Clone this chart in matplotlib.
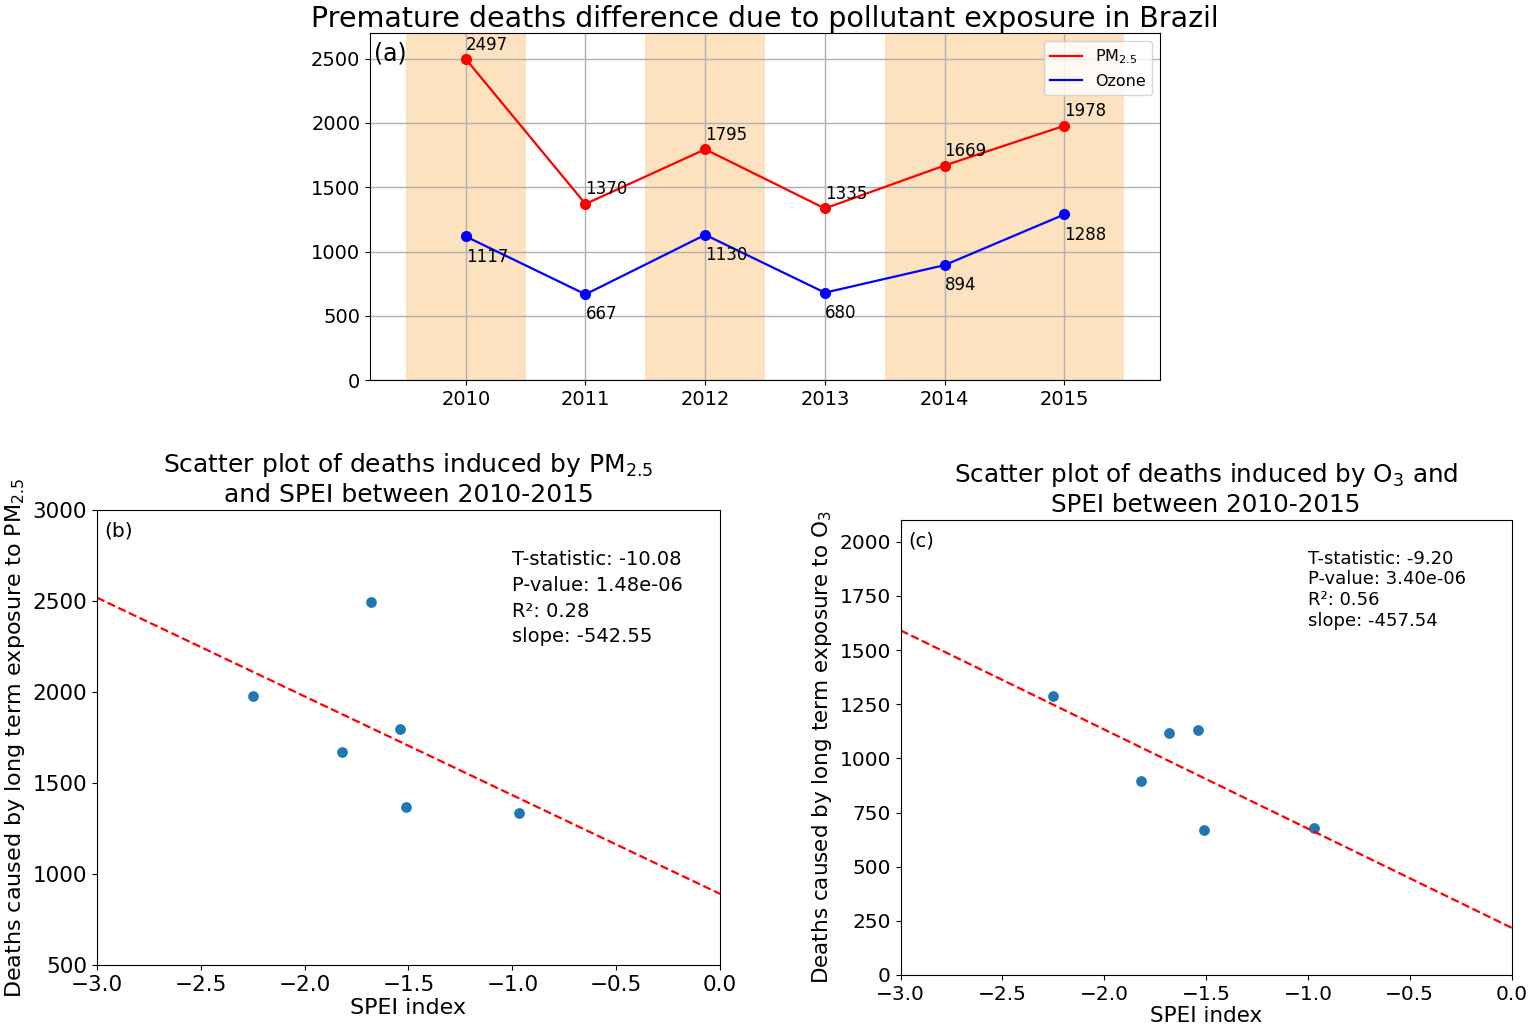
import matplotlib
matplotlib.use('Agg')
import numpy as np
import matplotlib.pyplot as plt

years = [2010, 2011, 2012, 2013, 2014, 2015]
pm25_deaths = [2497, 1370, 1795, 1335, 1669, 1978]
ozone_deaths = [1117, 667, 1130, 680, 894, 1288]
spei = [-1.68, -1.51, -1.54, -0.97, -1.82, -2.25]
shaded_years = [(2009.5, 2010.5), (2011.5, 2012.5), (2013.5, 2015.5)]

# regression results (as printed on the figure)
pm_slope, pm_intercept = -542.55, 891
o3_slope, o3_intercept = -457.54, 218
pm_stats = 'T-statistic: -10.08\nP-value: 1.48e-06\nR\u00b2: 0.28\nslope: -542.55'
o3_stats = 'T-statistic: -9.20\nP-value: 3.40e-06\nR\u00b2: 0.56\nslope: -457.54'

fig = plt.figure(figsize=(15.29, 10.30), dpi=100)

# (a) time series
ax = fig.add_axes([0.242, 0.631, 0.5167, 0.337])
for x0, x1 in shaded_years:
    ax.axvspan(x0, x1, color='#fde2bf', zorder=0, lw=0)
ax.plot(years, pm25_deaths, color='red', lw=1.6, label='PM$_{2.5}$')
ax.plot(years, ozone_deaths, color='blue', lw=1.6, label='Ozone')
ax.plot(years, pm25_deaths, 'o', color='red', markersize=7)
ax.plot(years, ozone_deaths, 'o', color='blue', markersize=7)
for x, y in zip(years, pm25_deaths):
    ax.annotate(str(y), (x, y), xytext=(0, 4), textcoords='offset points', ha='left', va='bottom', fontsize=12)
for x, y in zip(years, ozone_deaths):
    ax.annotate(str(y), (x, y), xytext=(0, -8), textcoords='offset points', ha='left', va='top', fontsize=12)
ax.set_xlim(2009.2, 2015.8)
ax.set_ylim(0, 2700)
ax.set_xticks(years)
ax.set_yticks([0, 500, 1000, 1500, 2000, 2500])
ax.tick_params(labelsize=14)
ax.grid(True, color='#b0b0b0', lw=1)
ax.text(0.005, 0.975, '(a)', transform=ax.transAxes, fontsize=17, va='top')
ax.legend(loc='upper right', fontsize=11.5)
ax.set_title('Premature deaths difference due to pollutant exposure in Brazil', fontsize=20.5, pad=4)

xs = np.array([-3.0, 0.0])

# (b) PM2.5 vs SPEI
axb = fig.add_axes([0.0634, 0.0631, 0.4075, 0.4417])
axb.scatter(spei, pm25_deaths, s=45, color='C0')
axb.plot(xs, pm_slope * xs + pm_intercept, color='red', ls='--', lw=1.6)
axb.set_xlim(-3, 0)
axb.set_ylim(500, 3000)
axb.tick_params(labelsize=15.5)
axb.set_xlabel('SPEI index', fontsize=16, labelpad=2)
axb.set_ylabel('Deaths caused by long term exposure to PM$_{2.5}$', fontsize=16)
axb.set_title('Scatter plot of deaths induced by PM$_{2.5}$\nand SPEI between 2010-2015', fontsize=18)
axb.text(0.012, 0.975, '(b)', transform=axb.transAxes, fontsize=14.5, va='top')
axb.text(0.666, 0.912, pm_stats, transform=axb.transAxes, fontsize=14, va='top', linespacing=1.45)

# (c) O3 vs SPEI
axc = fig.add_axes([0.589, 0.0534, 0.3996, 0.4417])
axc.scatter(spei, ozone_deaths, s=45, color='C0')
axc.plot(xs, o3_slope * xs + o3_intercept, color='red', ls='--', lw=1.6)
axc.set_xlim(-3, 0)
axc.set_ylim(0, 2100)
axc.set_yticks(np.arange(0, 2001, 250))
axc.tick_params(labelsize=14.5)
axc.set_xlabel('SPEI index', fontsize=15.5, labelpad=2)
axc.set_ylabel('Deaths caused by long term exposure to O$_3$', fontsize=15.5)
axc.set_title('Scatter plot of deaths induced by O$_3$ and\nSPEI between 2010-2015', fontsize=17.7)
axc.text(0.012, 0.975, '(c)', transform=axc.transAxes, fontsize=14, va='top')
axc.text(0.667, 0.935, o3_stats, transform=axc.transAxes, fontsize=13, va='top', linespacing=1.2)

fig.savefig('out.png', dpi=100)
